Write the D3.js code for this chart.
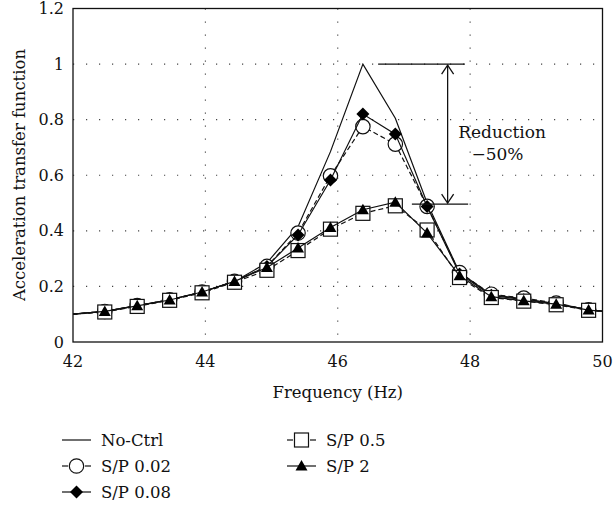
<!DOCTYPE html>
<html>
<head>
<meta charset="utf-8">
<script src="https://cdn.jsdelivr.net/npm/d3@7"></script>
<style>
  body { margin: 0; background: #fff; }
  svg text { font-family: 'DejaVu Serif', serif; }
</style>
</head>
<body>
<div id="chart"></div>
<script>
// frequencies (Hz); first and last points sit just outside the axis range
var freq = [41.99, 42.48, 42.97, 43.46, 43.95, 44.44, 44.93, 45.40, 45.89, 46.38, 46.87, 47.35, 47.84, 48.32, 48.81, 49.30, 49.79, 50.28];

var noCtrl = [0.100, 0.110, 0.131, 0.152, 0.180, 0.218, 0.285, 0.415, 0.685, 1.000, 0.805, 0.500, 0.250, 0.170, 0.155, 0.138, 0.116, 0.105];
var sp002  = [0.100, 0.110, 0.131, 0.152, 0.180, 0.218, 0.272, 0.392, 0.598, 0.775, 0.712, 0.488, 0.250, 0.172, 0.158, 0.140, 0.116, 0.105];
var sp008  = [0.100, 0.110, 0.131, 0.152, 0.180, 0.218, 0.272, 0.385, 0.583, 0.820, 0.748, 0.488, 0.245, 0.168, 0.152, 0.138, 0.116, 0.105];
var sp05   = [0.100, 0.108, 0.128, 0.150, 0.177, 0.215, 0.258, 0.329, 0.406, 0.463, 0.490, 0.403, 0.232, 0.160, 0.147, 0.134, 0.114, 0.105];
var sp2    = [0.100, 0.110, 0.130, 0.151, 0.180, 0.218, 0.268, 0.338, 0.412, 0.476, 0.503, 0.392, 0.238, 0.163, 0.148, 0.136, 0.115, 0.105];

var xTicks = [42, 44, 46, 48, 50];
var yTicks = [0, 0.2, 0.4, 0.6, 0.8, 1, 1.2];

var series = [
  { name: "No-Ctrl",  values: noCtrl, dash: null,  marker: null },
  { name: "S/P 0.02", values: sp002,  dash: "5,3", marker: "circle" },
  { name: "S/P 0.08", values: sp008,  dash: null,  marker: "diamond" },
  { name: "S/P 0.5",  values: sp05,   dash: "5,3", marker: "square" },
  { name: "S/P 2",    values: sp2,    dash: null,  marker: "triangle" }
];

var chart_width = 613, chart_height = 508;
var pLeft = 73, pRight = 602.5, pTop = 8.5, pBottom = 342;

var svg = d3.select('#chart')
  .append('svg')
  .attr('width', chart_width)
  .attr('height', chart_height)
  .attr('fill', '#111');

var x = d3.scaleLinear().domain([42, 50]).range([pLeft, pRight]);
var y = d3.scaleLinear().domain([0, 1.2]).range([pBottom, pTop]);

svg.append('clipPath').attr('id', 'clip')
  .append('rect')
  .attr('x', pLeft).attr('y', pTop)
  .attr('width', pRight - pLeft).attr('height', pBottom - pTop);

// dotted grid
svg.selectAll('.hgrid')
  .data([0.2, 0.4, 0.6, 0.8, 1])
  .enter()
  .append('line')
  .attr('x1', pLeft).attr('x2', pRight)
  .attr('y1', d => y(d)).attr('y2', d => y(d))
  .attr('stroke', '#444').attr('stroke-width', 1.1)
  .attr('stroke-dasharray', '1.2,11.8');

svg.selectAll('.vgrid')
  .data([44, 46, 48])
  .enter()
  .append('line')
  .attr('x1', d => x(d)).attr('x2', d => x(d))
  .attr('y1', pTop).attr('y2', pBottom)
  .attr('stroke', '#444').attr('stroke-width', 1.1)
  .attr('stroke-dasharray', '1.2,11.8');

// frame
svg.append('rect')
  .attr('x', pLeft).attr('y', pTop)
  .attr('width', pRight - pLeft).attr('height', pBottom - pTop)
  .attr('fill', 'none').attr('stroke', '#111').attr('stroke-width', 1.3);

// tick labels
svg.selectAll('.ylab')
  .data(yTicks)
  .enter()
  .append('text')
  .attr('x', pLeft - 9)
  .attr('y', d => y(d) + 5.5)
  .attr('text-anchor', 'end')
  .attr('font-size', 16)
  .text(d => d);

svg.selectAll('.xlab')
  .data(xTicks)
  .enter()
  .append('text')
  .attr('x', d => x(d))
  .attr('y', pBottom + 25)
  .attr('text-anchor', 'middle')
  .attr('font-size', 16)
  .text(d => d);

svg.append('text')
  .attr('x', (pLeft + pRight) / 2)
  .attr('y', 398)
  .attr('text-anchor', 'middle')
  .attr('font-size', 16.5)
  .text('Frequency (Hz)');

svg.append('text')
  .attr('transform', 'translate(25,' + 175 + ') rotate(-90)')
  .attr('text-anchor', 'middle')
  .attr('font-size', 16.5)
  .text('Acceleration transfer function');

// markers
function drawMarker(g, type, cx, cy) {
  if (type === 'circle') {
    g.append('circle').attr('cx', cx).attr('cy', cy).attr('r', 7.2)
      .attr('fill', '#fff').attr('stroke', '#111').attr('stroke-width', 1.2);
  } else if (type === 'diamond') {
    var s = 6.5;
    g.append('path')
      .attr('d', 'M' + cx + ',' + (cy - s) + 'L' + (cx + s) + ',' + cy + 'L' + cx + ',' + (cy + s) + 'L' + (cx - s) + ',' + cy + 'Z')
      .attr('fill', '#000');
  } else if (type === 'square') {
    g.append('rect').attr('x', cx - 7).attr('y', cy - 7).attr('width', 14).attr('height', 14)
      .attr('fill', '#fff').attr('stroke', '#111').attr('stroke-width', 1.2);
  } else if (type === 'triangle') {
    g.append('path')
      .attr('d', 'M' + cx + ',' + (cy - 6) + 'L' + (cx + 6) + ',' + (cy + 4.5) + 'L' + (cx - 6) + ',' + (cy + 4.5) + 'Z')
      .attr('fill', '#000');
  }
}

var line = d3.line()
  .x((d, i) => x(freq[i]))
  .y(d => y(d));

var plot = svg.append('g').attr('clip-path', 'url(#clip)');

series.forEach(function(s) {
  plot.append('path')
    .attr('d', line(s.values))
    .attr('fill', 'none')
    .attr('stroke', '#111')
    .attr('stroke-width', 1.2)
    .attr('stroke-dasharray', s.dash);
  if (s.marker) {
    var g = plot.append('g');
    s.values.forEach(function(v, i) {
      if (freq[i] > 42 && freq[i] < 50) drawMarker(g, s.marker, x(freq[i]), y(v));
    });
  }
});

// reduction annotation
var ann = svg.append('g').attr('stroke', '#111').attr('stroke-width', 1.3).attr('fill', 'none');
ann.append('line')
  .attr('x1', x(46.61)).attr('x2', x(47.92))
  .attr('y1', y(1)).attr('y2', y(1));
ann.append('line')
  .attr('x1', x(47.12)).attr('x2', x(47.97))
  .attr('y1', y(0.496)).attr('y2', y(0.496));
var ax = x(47.66);
ann.append('line')
  .attr('x1', ax).attr('x2', ax)
  .attr('y1', y(1) + 1).attr('y2', y(0.496) - 1);
ann.append('path')
  .attr('d', 'M' + (ax - 6) + ',' + (y(1) + 10) + 'L' + ax + ',' + (y(1) + 1) + 'L' + (ax + 6) + ',' + (y(1) + 10));
ann.append('path')
  .attr('d', 'M' + (ax - 6) + ',' + (y(0.496) - 10) + 'L' + ax + ',' + (y(0.496) - 1) + 'L' + (ax + 6) + ',' + (y(0.496) - 10));

svg.append('text')
  .attr('x', x(47.82)).attr('y', y(0.735))
  .attr('font-size', 17)
  .text('Reduction');
svg.append('text')
  .attr('x', x(48.02)).attr('y', y(0.655))
  .attr('font-size', 17)
  .text('\u221250%');

// legend
var legendItems = [
  { s: series[0], x: 62, y: 440 },
  { s: series[1], x: 62, y: 466 },
  { s: series[2], x: 62, y: 492 },
  { s: series[3], x: 287, y: 440 },
  { s: series[4], x: 287, y: 466 }
];

legendItems.forEach(function(it) {
  var g = svg.append('g');
  var cx = it.x + 14.5;
  if (it.s.dash) {
    g.append('line').attr('x1', it.x).attr('x2', it.x + 6)
      .attr('y1', it.y).attr('y2', it.y)
      .attr('stroke', '#111').attr('stroke-width', 1.2);
    g.append('line').attr('x1', it.x + 23).attr('x2', it.x + 29)
      .attr('y1', it.y).attr('y2', it.y)
      .attr('stroke', '#111').attr('stroke-width', 1.2);
  } else {
    g.append('line').attr('x1', it.x).attr('x2', it.x + 29)
      .attr('y1', it.y).attr('y2', it.y)
      .attr('stroke', '#111').attr('stroke-width', 1.2);
  }
  if (it.s.marker) drawMarker(g, it.s.marker, cx, it.y);
  svg.append('text')
    .attr('x', it.x + 39)
    .attr('y', it.y + 5.5)
    .attr('font-size', 16.5)
    .text(it.s.name);
});
</script>
</body>
</html>
